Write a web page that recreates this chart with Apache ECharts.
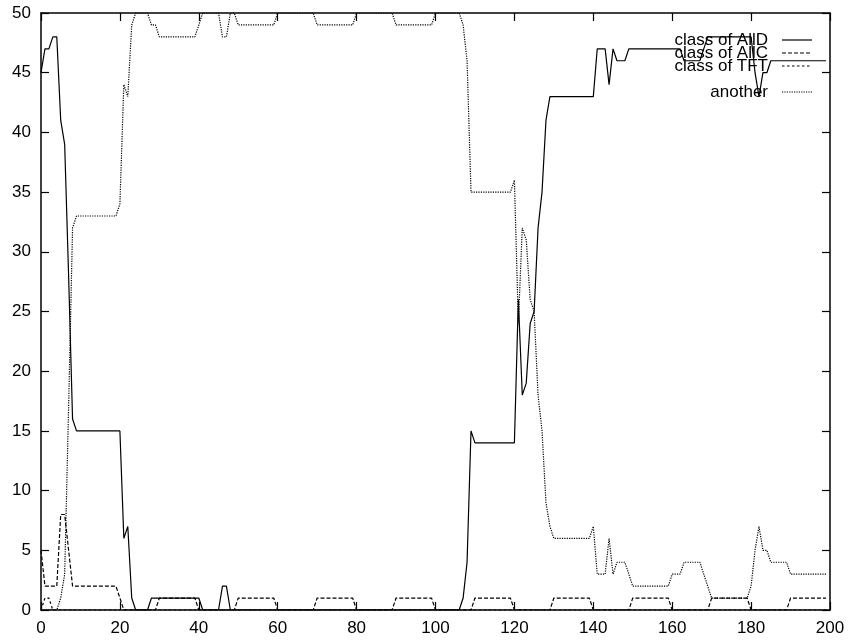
<!DOCTYPE html>
<html>
<head>
<meta charset="utf-8">
<script src="https://cdn.jsdelivr.net/npm/echarts@6/dist/echarts.min.js"></script>
<style>
html,body{margin:0;padding:0;background:#fff;}
#chart{width:850px;height:642px;}
</style>
</head>
<body>
<div id="chart"></div>
<script>
// x runs 0..199 (index of each value)
var seriesNames = ['class of AllD', 'class of AllC', 'class of TFT', 'another'];

var allD = [
  45,47,47,48,48,41,39,28,16,15, 15,15,15,15,15,15,15,15,15,15,
  15,6,7,1,0,0,0,0,1,1, 1,1,1,1,1,1,1,1,1,1,
  1,0,0,0,0,0,2,2,0,0, 0,0,0,0,0,0,0,0,0,0,
  0,0,0,0,0,0,0,0,0,0, 0,0,0,0,0,0,0,0,0,0,
  0,0,0,0,0,0,0,0,0,0, 0,0,0,0,0,0,0,0,0,0,
  0,0,0,0,0,0,0,1,4,15, 14,14,14,14,14,14,14,14,14,14,
  14,26,18,19,24,25,32,35,41,43, 43,43,43,43,43,43,43,43,43,43,
  43,47,47,47,44,47,46,46,46,47, 47,47,47,47,47,47,47,47,47,47,
  47,47,47,46,46,46,46,46,47,48, 48,48,48,48,48,48,48,48,48,48,
  48,45,43,45,45,46,46,46,46,46, 46,46,46,46,46,46,46,46,46,46
];
var allC = [
  5,2,2,2,2,8,8,5,2,2, 2,2,2,2,2,2,2,2,2,2,
  1,0,0,0,0,0,0,0,0,0, 1,1,1,1,1,1,1,1,1,1,
  0,0,0,0,0,0,0,0,0,0, 1,1,1,1,1,1,1,1,1,1,
  0,0,0,0,0,0,0,0,0,0, 1,1,1,1,1,1,1,1,1,1,
  0,0,0,0,0,0,0,0,0,0, 1,1,1,1,1,1,1,1,1,1,
  0,0,0,0,0,0,0,0,0,0, 1,1,1,1,1,1,1,1,1,1,
  0,0,0,0,0,0,0,0,0,0, 1,1,1,1,1,1,1,1,1,1,
  0,0,0,0,0,0,0,0,0,0, 1,1,1,1,1,1,1,1,1,1,
  0,0,0,0,0,0,0,0,0,0, 1,1,1,1,1,1,1,1,1,1,
  0,0,0,0,0,0,0,0,0,0, 1,1,1,1,1,1,1,1,1,1
];
var tft = [
  0,1,1,0,0,0,0,0,0,0, 0,0,0,0,0,0,0,0,0,0,
  0,0,0,0,0,0,0,0,0,0, 0,0,0,0,0,0,0,0,0,0,
  0,0,0,0,0,0,0,0,0,0, 0,0,0,0,0,0,0,0,0,0,
  0,0,0,0,0,0,0,0,0,0, 0,0,0,0,0,0,0,0,0,0,
  0,0,0,0,0,0,0,0,0,0, 0,0,0,0,0,0,0,0,0,0,
  0,0,0,0,0,0,0,0,0,0, 0,0,0,0,0,0,0,0,0,0,
  0,0,0,0,0,0,0,0,0,0, 0,0,0,0,0,0,0,0,0,0,
  0,0,0,0,0,0,0,0,0,0, 0,0,0,0,0,0,0,0,0,0,
  0,0,0,0,0,0,0,0,0,0, 0,0,0,0,0,0,0,0,0,0,
  0,0,0,0,0,0,0,0,0,0, 0,0,0,0,0,0,0,0,0,0
];
var another = [
  0,0,0,0,0,1,3,17,32,33, 33,33,33,33,33,33,33,33,33,33,
  34,44,43,49,50,50,50,50,49,49, 48,48,48,48,48,48,48,48,48,48,
  49,50,50,50,50,50,48,48,50,50, 49,49,49,49,49,49,49,49,49,49,
  50,50,50,50,50,50,50,50,50,50, 49,49,49,49,49,49,49,49,49,49,
  50,50,50,50,50,50,50,50,50,50, 49,49,49,49,49,49,49,49,49,49,
  50,50,50,50,50,50,50,49,46,35, 35,35,35,35,35,35,35,35,35,35,
  36,24,32,31,26,25,18,15,9,7, 6,6,6,6,6,6,6,6,6,6,
  7,3,3,3,6,3,4,4,4,3, 2,2,2,2,2,2,2,2,2,2,
  3,3,3,4,4,4,4,4,3,2, 1,1,1,1,1,1,1,1,1,1,
  2,5,7,5,5,4,4,4,4,4, 3,3,3,3,3,3,3,3,3,3
];

var xTicks = [0, 20, 40, 60, 80, 100, 120, 140, 160, 180, 200];
var yTicks = [0, 5, 10, 15, 20, 25, 30, 35, 40, 45, 50];

var dashStyles = ['solid', [4, 2], [2.5, 2.5], [1.2, 1.2]];
var seriesValues = [allD, allC, tft, another];

function pairs(arr) { return arr.map(function (v, i) { return [i, v]; }); }

var FONT = 'Liberation Sans, Arial, Helvetica, sans-serif';

var chart = echarts.init(document.getElementById('chart'), null, {renderer: 'canvas'});

var axisCommon = {
  type: 'value',
  axisLine: {show: true, onZero: false, lineStyle: {color: '#000', width: 1.5}},
  axisTick: {show: true, inside: true, length: 8, lineStyle: {color: '#000', width: 1.2}},
  splitLine: {show: false}
};

var legendGraphics = [];
var legendY = [40, 53, 66, 92];
seriesNames.forEach(function (name, i) {
  legendGraphics.push({
    type: 'text',
    z: 100,
    style: {
      text: name, x: 768, y: legendY[i],
      font: '17px ' + FONT, fill: '#000',
      textAlign: 'right', textVerticalAlign: 'middle',
      align: 'right', verticalAlign: 'middle'
    }
  });
  legendGraphics.push({
    type: 'line',
    z: 100,
    shape: {x1: 782, y1: legendY[i], x2: 812, y2: legendY[i]},
    style: {stroke: '#000', lineWidth: 1.2, lineDash: dashStyles[i] === 'solid' ? null : dashStyles[i]}
  });
});

var option = {
  animation: false,
  backgroundColor: '#fff',
  grid: {left: 41, right: 20, top: 13, bottom: 32, containLabel: false},
  xAxis: [
    Object.assign({}, axisCommon, {
      min: 0, max: 200, interval: 20, position: 'bottom',
      axisLabel: {show: true, margin: 10, color: '#000', fontSize: 17, fontFamily: FONT,
        formatter: function (v) { return xTicks.indexOf(v) >= 0 ? String(v) : ''; }}
    }),
    Object.assign({}, axisCommon, {
      min: 0, max: 200, interval: 20, position: 'top',
      axisLabel: {show: false}
    })
  ],
  yAxis: [
    Object.assign({}, axisCommon, {
      min: 0, max: 50, interval: 5, position: 'left',
      axisLabel: {show: true, margin: 10, color: '#000', fontSize: 17, fontFamily: FONT,
        formatter: function (v) { return yTicks.indexOf(v) >= 0 ? String(v) : ''; }}
    }),
    Object.assign({}, axisCommon, {
      min: 0, max: 50, interval: 5, position: 'right',
      axisLabel: {show: false}
    })
  ],
  graphic: legendGraphics,
  series: seriesNames.map(function (name, i) {
    return {
      name: name,
      type: 'line',
      xAxisIndex: 0,
      yAxisIndex: 0,
      data: pairs(seriesValues[i]),
      showSymbol: false,
      symbol: 'none',
      clip: true,
      lineStyle: {color: '#000', width: 1.2, type: dashStyles[i]},
      z: 2 + i
    };
  })
};

chart.setOption(option);
</script>
</body>
</html>
